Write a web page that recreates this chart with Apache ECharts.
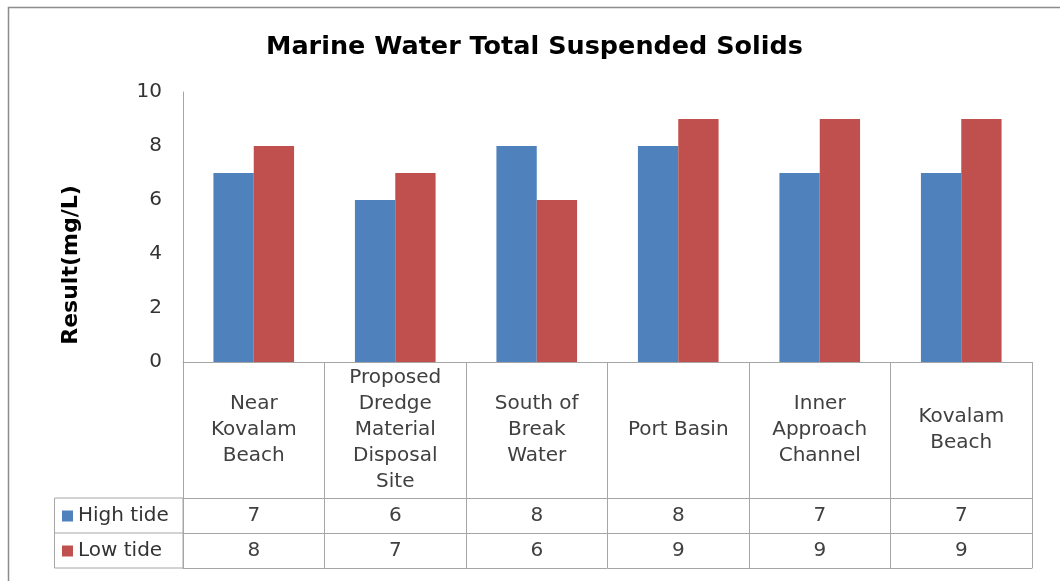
<!DOCTYPE html>
<html>
<head>
<meta charset="utf-8">
<script src="https://cdn.jsdelivr.net/npm/echarts@6/dist/echarts.min.js"></script>
<style>
  html, body { margin: 0; padding: 0; background: #fff; }
  #main { width: 1060px; height: 581px; }
</style>
</head>
<body>
<div id="main"></div>
<script>
var categories = [
  'Near\nKovalam\nBeach',
  'Proposed\nDredge\nMaterial\nDisposal\nSite',
  'South of\nBreak\nWater',
  'Port Basin',
  'Inner\nApproach\nChannel',
  'Kovalam\nBeach'
];
var highTide = [7, 6, 8, 8, 7, 7];
var lowTide = [8, 7, 6, 9, 9, 9];
var seriesNames = ['High tide', 'Low tide'];
var colors = ['#4F81BD', '#C0504D'];

var chartDom = document.getElementById('main');
var myChart = echarts.init(chartDom);
var font = 'DejaVu Sans';
var lineColor = '#A6A6A6';

var option = {
  textStyle: { fontFamily: font },
  title: {
    text: 'Marine Water Total Suspended Solids',
    left: 266,
    top: 34,
    padding: 0,
    textStyle: { fontFamily: font, fontSize: 25.5, fontWeight: 'bold', color: '#000' }
  },
  legend: [
    {
      data: [seriesNames[0]],
      left: 62, top: 506, padding: 0,
      itemWidth: 11, itemHeight: 11, icon: 'rect',
      textStyle: { fontFamily: font, fontSize: 20, color: '#333' }
    },
    {
      data: [seriesNames[1]],
      left: 62, top: 541, padding: 0,
      itemWidth: 11, itemHeight: 11, icon: 'rect',
      textStyle: { fontFamily: font, fontSize: 20, color: '#333' }
    }
  ],
  grid: { left: 183, right: 28, top: 92, bottom: 219 },
  xAxis: [
    {
      type: 'category',
      data: categories,
      position: 'bottom',
      axisLine: { onZero: false, lineStyle: { color: lineColor } },
      axisTick: { show: true, interval: 0, length: 136, lineStyle: { color: lineColor } },
      axisLabel: {
        interval: 0, margin: 68, verticalAlign: 'middle',
        fontSize: 20, lineHeight: 26, color: '#404040', fontFamily: font
      }
    },
    {
      type: 'category',
      data: highTide.map(String),
      position: 'bottom',
      offset: 136,
      axisLine: { onZero: false, lineStyle: { color: lineColor } },
      axisTick: { show: true, interval: 0, length: 35, lineStyle: { color: lineColor } },
      axisLabel: {
        interval: 0, margin: 17.5, verticalAlign: 'middle',
        fontSize: 20, color: '#404040', fontFamily: font
      }
    },
    {
      type: 'category',
      data: lowTide.map(String),
      position: 'bottom',
      offset: 171,
      axisLine: { onZero: false, lineStyle: { color: lineColor } },
      axisTick: { show: true, interval: 0, length: 35, lineStyle: { color: lineColor } },
      axisLabel: {
        interval: 0, margin: 17.5, verticalAlign: 'middle',
        fontSize: 20, color: '#404040', fontFamily: font
      }
    },
    {
      type: 'category',
      data: categories,
      position: 'bottom',
      offset: 206,
      axisLine: { onZero: false, lineStyle: { color: lineColor } },
      axisTick: { show: false },
      axisLabel: { show: false }
    }
  ],
  yAxis: {
    type: 'value',
    min: 0,
    max: 10,
    interval: 2,
    axisLine: { show: true, lineStyle: { color: lineColor } },
    axisTick: { show: false },
    splitLine: { show: false },
    axisLabel: { fontSize: 20, color: '#333', margin: 21, fontFamily: font }
  },
  graphic: [
    {
      type: 'rect',
      shape: { x: 8.5, y: 7.5, width: 1200, height: 800 },
      style: { fill: 'none', stroke: '#8C8C8C', lineWidth: 1.5 },
      silent: true
    },
    {
      type: 'rect',
      shape: { x: 54.5, y: 498, width: 128.5, height: 70 },
      style: { fill: 'none', stroke: lineColor, lineWidth: 1 },
      silent: true
    },
    {
      type: 'line',
      shape: { x1: 54.5, y1: 533, x2: 183, y2: 533 },
      style: { stroke: lineColor, lineWidth: 1 },
      silent: true
    },
    {
      type: 'text',
      x: 71,
      y: 265,
      rotation: Math.PI / 2,
      style: {
        text: 'Result(mg/L)',
        fontFamily: font,
        fontSize: 22,
        fontWeight: 'bold',
        fill: '#000',
        align: 'center',
        verticalAlign: 'middle'
      },
      silent: true
    }
  ],
  series: [
    {
      name: seriesNames[0],
      type: 'bar',
      data: highTide,
      barGap: '0%',
      barCategoryGap: '43%',
      itemStyle: { color: colors[0] }
    },
    {
      name: seriesNames[1],
      type: 'bar',
      data: lowTide,
      itemStyle: { color: colors[1] }
    }
  ]
};

option && myChart.setOption(option);
</script>
</body>
</html>
